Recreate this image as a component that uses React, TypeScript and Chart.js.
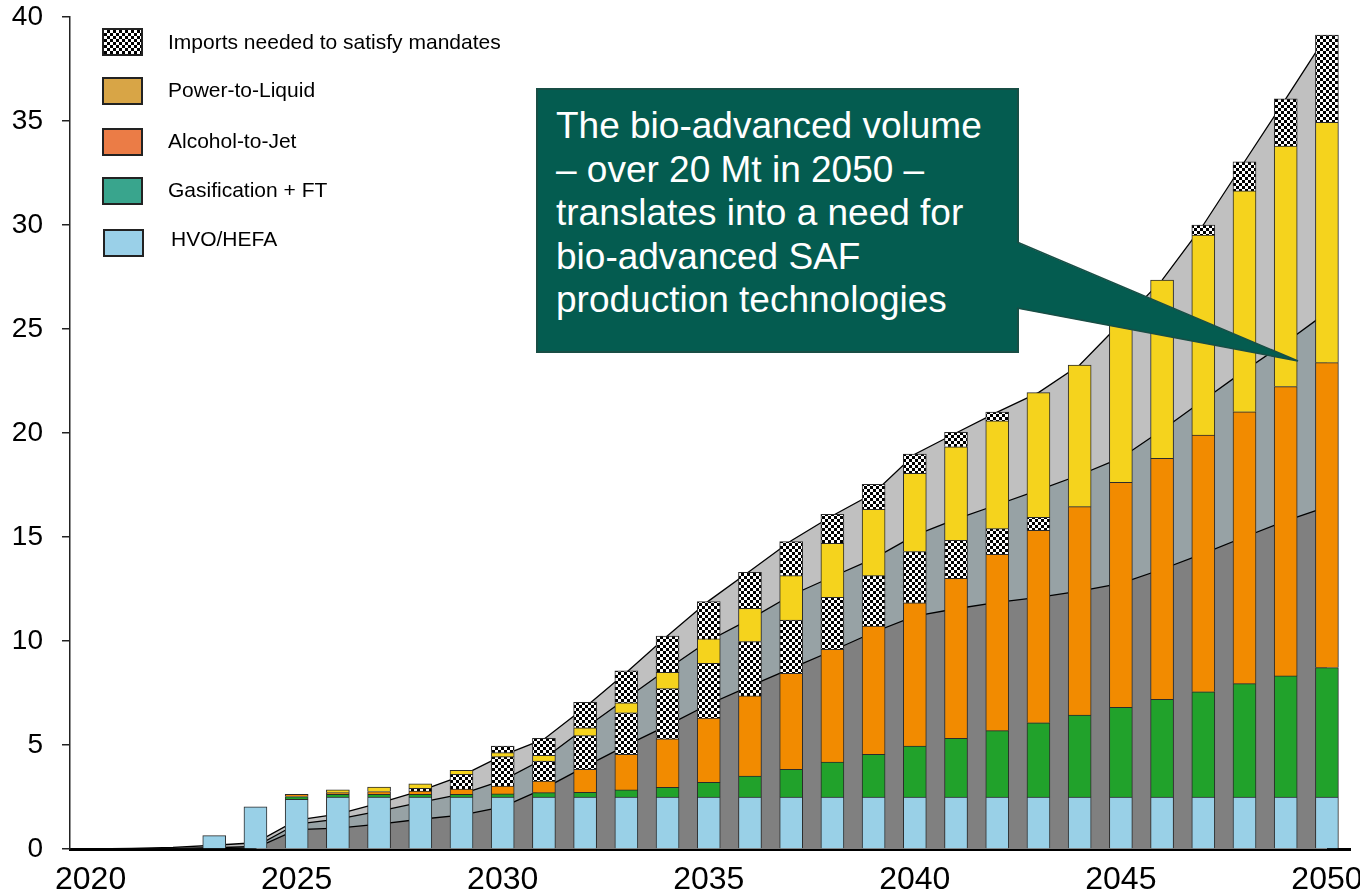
import React, { useEffect, useRef } from "react";
import { Chart, registerables } from "chart.js";

Chart.register(...registerables);

// ---------- data ----------
const BAR_YEARS = [
  2023, 2024, 2025, 2026, 2027, 2028, 2029, 2030, 2031, 2032, 2033, 2034, 2035, 2036,
  2037, 2038, 2039, 2040, 2041, 2042, 2043, 2044, 2045, 2046, 2047, 2048, 2049, 2050,
];
const HVO_HEFA = [
  0.64, 2.03, 2.39, 2.5, 2.5, 2.5, 2.5, 2.5, 2.5, 2.5, 2.5, 2.5, 2.5, 2.5,
  2.5, 2.5, 2.5, 2.5, 2.5, 2.5, 2.5, 2.5, 2.5, 2.5, 2.5, 2.5, 2.5, 2.5,
];
const GASIFICATION_FT = [
  0, 0, 0.13, 0.13, 0.13, 0.13, 0.13, 0.15, 0.21, 0.23, 0.34, 0.46, 0.7, 1.01,
  1.33, 1.68, 2.05, 2.45, 2.82, 3.19, 3.57, 3.94, 4.31, 4.7, 5.06, 5.45, 5.82, 6.22,
];
const ALCOHOL_TO_JET = [
  0, 0, 0.11, 0.08, 0.13, 0.16, 0.25, 0.38, 0.56, 1.1, 1.71, 2.34, 3.1, 3.85,
  4.62, 5.42, 6.17, 6.89, 7.69, 8.48, 9.25, 10.02, 10.82, 11.58, 12.34, 13.07, 13.91, 14.66,
];
const IMPORTS_BIO = [
  0, 0, 0, 0, 0, 0.13, 0.71, 1.41, 0.96, 1.62, 2.0, 2.41, 2.63, 2.61,
  2.56, 2.5, 2.42, 2.46, 1.83, 1.23, 0.63, 0, 0, 0, 0, 0, 0, 0,
];
const POWER_TO_LIQUID = [
  0, 0, 0, 0.13, 0.22, 0.21, 0.19, 0.19, 0.27, 0.38, 0.48, 0.78, 1.17, 1.6,
  2.13, 2.6, 3.19, 3.76, 4.5, 5.18, 5.99, 6.81, 7.77, 8.57, 9.62, 10.62, 11.57, 11.56,
];
const IMPORTS_PTL = [
  0, 0, 0, 0, 0, 0, 0, 0.32, 0.82, 1.22, 1.53, 1.75, 1.79, 1.73,
  1.64, 1.39, 1.2, 0.93, 0.69, 0.42, 0, 0, 0, 0, 0.48, 1.4, 2.26, 4.19,
];

const AREA_YEARS = [
  2020, 2021, 2022, 2023, 2024, 2025, 2026, 2027, 2028, 2029, 2030, 2031, 2032, 2033, 2034, 2035,
  2036, 2037, 2038, 2039, 2040, 2041, 2042, 2043, 2044, 2045, 2046, 2047, 2048, 2049, 2050,
];
const MANDATE_TOTAL = [
  0, 0.03, 0.08, 0.18, 0.3, 1.39, 1.68, 2.2, 2.8, 3.52, 4.5, 5.28, 6.81, 8.49, 10.25, 11.93,
  13.37, 14.82, 16.02, 17.1, 18.98, 20.0, 21.0, 21.94, 23.27, 25.3, 27.35, 30.0, 33.04, 36.06, 39.13,
];
const MANDATE_MID = [
  0, 0.01, 0.03, 0.06, 0.12, 1.2, 1.44, 1.82, 2.24, 2.64, 3.3, 4.34, 5.82, 7.24, 8.65, 10.01,
  11.05, 12.2, 13.09, 13.96, 15.08, 15.86, 16.55, 17.25, 17.98, 18.8, 20.14, 21.57, 23.0, 24.35, 25.8,
];
const MANDATE_LOW = [
  0, 0, 0.01, 0.02, 0.04, 0.93, 1.0, 1.2, 1.43, 1.63, 2.03, 2.9, 3.96, 4.98, 5.94, 6.96,
  7.83, 8.68, 9.53, 10.42, 11.2, 11.55, 11.86, 12.1, 12.4, 12.77, 13.45, 14.2, 15.0, 15.78, 16.45,
];

const X_TICKS = [2020, 2025, 2030, 2035, 2040, 2045, 2050];
const Y_MIN = 0;
const Y_MAX = 40;
const Y_STEP = 5;

const LEGEND_ITEMS = [
  { label: "Imports needed to satisfy mandates", color: "checker" },
  { label: "Power-to-Liquid", color: "#D8A546" },
  { label: "Alcohol-to-Jet", color: "#EB7C46" },
  { label: "Gasification + FT", color: "#39A58D" },
  { label: "HVO/HEFA", color: "#9AD0E8" },
];

const CALLOUT_LINES = [
  "The bio-advanced volume",
  "\u2013 over 20 Mt in 2050 \u2013",
  "translates into a need for",
  "bio-advanced SAF",
  "production technologies",
];

// ---------- styles ----------
const SANS = "'Liberation Sans', Arial, Helvetica, sans-serif";
const NARROW = "'Liberation Sans Narrow', 'Arial Narrow', 'Liberation Sans', Arial, sans-serif";
const COL_HVO = "#99D0E7";
const COL_GAS = "#21A22B";
const COL_ATJ = "#F28B00";
const COL_PTL = "#F5D31D";
const COL_AREA_LOW = "#808080";
const COL_AREA_MID = "#97A2A5";
const COL_AREA_TOP = "#C0C0C0";
const CALLOUT_BG = "#045C50";
const CALLOUT_EDGE = "#184E45";

function makeChecker(): CanvasPattern | string {
  const c = document.createElement("canvas");
  c.width = 6;
  c.height = 6;
  const g = c.getContext("2d");
  if (!g) return "#888";
  g.fillStyle = "#ffffff";
  g.fillRect(0, 0, 6, 6);
  g.fillStyle = "#000000";
  g.fillRect(0, 0, 3, 3);
  g.fillRect(3, 3, 3, 3);
  const p = g.createPattern(c, "repeat");
  return p || "#888";
}

const barPoints = (vals: number[]) =>
  BAR_YEARS.map((x, i) => ({ x, y: vals[i] === 0 ? null : vals[i] }));
const areaPoints = (vals: number[]) => AREA_YEARS.map((x, i) => ({ x, y: vals[i] }));

export default function App() {
  const canvasRef = useRef<HTMLCanvasElement | null>(null);

  useEffect(() => {
    const canvas = canvasRef.current;
    if (!canvas) return;
    const checker = makeChecker();

    const barBase = {
      type: "bar" as const,
      stack: "supply",
      barThickness: 23,
      borderWidth: 1,
      borderColor: "#2b2b2b",
      order: 0,
    };
    const areaBase = {
      type: "line" as const,
      fill: "origin",
      borderColor: "#000000",
      borderWidth: 1.3,
      pointRadius: 0,
      tension: 0,
    };

    const chart = new Chart(canvas, {
      type: "bar",
      data: {
        datasets: [
          { ...barBase, label: "HVO/HEFA", data: barPoints(HVO_HEFA), backgroundColor: COL_HVO },
          { ...barBase, label: "Gasification + FT", data: barPoints(GASIFICATION_FT), backgroundColor: COL_GAS },
          { ...barBase, label: "Alcohol-to-Jet", data: barPoints(ALCOHOL_TO_JET), backgroundColor: COL_ATJ },
          { ...barBase, label: "Imports (bio)", data: barPoints(IMPORTS_BIO), backgroundColor: checker },
          { ...barBase, label: "Power-to-Liquid", data: barPoints(POWER_TO_LIQUID), backgroundColor: COL_PTL },
          { ...barBase, label: "Imports (PtL)", data: barPoints(IMPORTS_PTL), backgroundColor: checker },
          { ...areaBase, label: "low", stack: "a1", order: 1, data: areaPoints(MANDATE_LOW), backgroundColor: COL_AREA_LOW },
          { ...areaBase, label: "mid", stack: "a2", order: 2, data: areaPoints(MANDATE_MID), backgroundColor: COL_AREA_MID },
          { ...areaBase, label: "total", stack: "a3", order: 3, data: areaPoints(MANDATE_TOTAL), backgroundColor: COL_AREA_TOP },
        ] as any,
      },
      options: {
        animation: false,
        responsive: true,
        maintainAspectRatio: false,
        parsing: true,
        layout: { padding: { left: 0, top: 17, right: 10, bottom: 0 } },
        plugins: { legend: { display: false }, tooltip: { enabled: false } },
        scales: {
          x: {
            type: "linear",
            min: 2019.5,
            max: 2050.56,
            offset: false,
            grid: { display: false, drawTicks: false },
            border: { display: true, color: "#000000", width: 3 },
            ticks: {
              color: "#000000",
              font: { family: NARROW, size: 32 },
              padding: 12,
              maxRotation: 0,
              autoSkip: false,
              callback: (v: any) => String(v),
            },
            afterBuildTicks: (scale: any) => {
              scale.ticks = X_TICKS.map((v) => ({ value: v }));
            },
            afterFit: (scale: any) => {
              scale.height = 43;
              scale.paddingLeft = 0;
              scale.paddingRight = 0;
            },
          },
          y: {
            type: "linear",
            stacked: true,
            min: Y_MIN,
            max: Y_MAX,
            grid: { drawOnChartArea: false, drawTicks: true, tickLength: 8, color: "#222222", lineWidth: 1.5 },
            border: { display: true, color: "#222222", width: 1.5 },
            ticks: {
              stepSize: Y_STEP,
              color: "#000000",
              font: { family: SANS, size: 28 },
              padding: 19,
            },
            afterFit: (scale: any) => {
              scale.width = 70;
              scale.paddingTop = 0;
              scale.paddingBottom = 0;
            },
          },
        },
      } as any,
    });
    return () => chart.destroy();
  }, []);

  const boxTops = [28, 77, 128, 177, 229];
  const textCenters = [42, 90, 141, 190, 239];

  return (
    <div style={{ position: "absolute", left: 0, top: 0, width: 1360, height: 892, background: "#ffffff", overflow: "hidden" }}>
      <canvas ref={canvasRef} />
      {LEGEND_ITEMS.map((it, i) => (
        <div key={it.label}>
          <div
            style={{
              position: "absolute",
              left: i === 4 ? 103 : 102,
              top: boxTops[i],
              width: 41,
              height: 28,
              boxSizing: "border-box",
              border: "2px solid #222",
              background:
                it.color === "checker"
                  ? "repeating-conic-gradient(#000 0% 25%, #fff 0% 50%) 0 0 / 6px 6px"
                  : it.color,
            }}
          />
          <div
            style={{
              position: "absolute",
              left: i === 4 ? 171 : 168,
              top: textCenters[i],
              transform: "translateY(-50%)",
              fontFamily: SANS,
              fontSize: 21,
              color: "#000",
              whiteSpace: "nowrap",
              lineHeight: "24px",
            }}
          >
            {it.label}
          </div>
        </div>
      ))}
      <div
        style={{
          position: "absolute",
          left: 536,
          top: 88,
          width: 483,
          height: 265,
          boxSizing: "border-box",
          background: CALLOUT_BG,
          border: `2px solid ${CALLOUT_EDGE}`,
        }}
      />
      <svg width={1360} height={892} style={{ position: "absolute", left: 0, top: 0, pointerEvents: "none" }}>
        <polygon points="1016,242 1016,308 1298,361" fill={CALLOUT_BG} />
        <polyline points="1017,242 1298,361 1017,308" fill="none" stroke={CALLOUT_EDGE} strokeWidth={1.5} />
      </svg>
      <div
        style={{
          position: "absolute",
          left: 556,
          top: 104,
          fontFamily: SANS,
          fontSize: 37,
          lineHeight: "43.6px",
          color: "#ffffff",
          whiteSpace: "nowrap",
        }}
      >
        {CALLOUT_LINES.map((l) => (
          <div key={l}>{l}</div>
        ))}
      </div>
    </div>
  );
}
